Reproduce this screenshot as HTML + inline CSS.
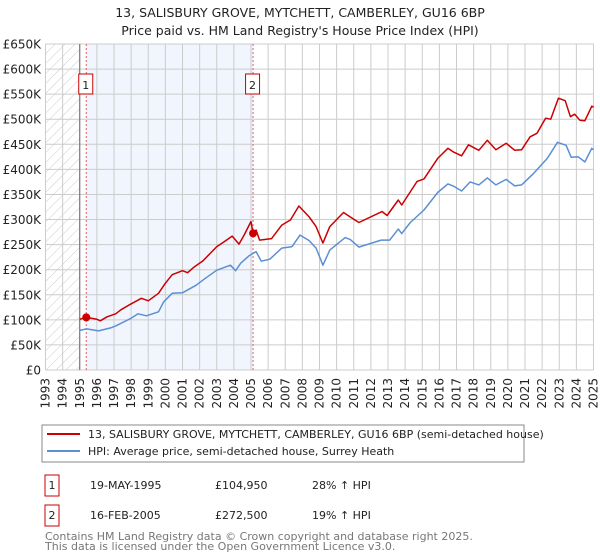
<!DOCTYPE html>
<html><head><meta charset="utf-8"><style>
body{margin:0;background:#fff}
svg{display:block;font-family:"DejaVu Sans","Liberation Sans",sans-serif}
</style></head><body>
<svg id="chart" width="600" height="560" viewBox="0 0 600 560">
<defs><pattern id="hatch" width="7" height="7" patternUnits="userSpaceOnUse" patternTransform="rotate(45)"><line x1="0" y1="0" x2="0" y2="7" stroke="#ccc" stroke-width="1"/></pattern></defs>
<text x="300" y="17" text-anchor="middle" font-size="12.5" fill="#222">13, SALISBURY GROVE, MYTCHETT, CAMBERLEY, GU16 6BP</text>
<text x="300" y="35" text-anchor="middle" font-size="12.5" fill="#222">Price paid vs. HM Land Registry's House Price Index (HPI)</text>
<g id="plot"></g>
<g>
<rect x="42" y="425" width="482" height="37" fill="#fff" stroke="#888"/>
<line x1="47" y1="434" x2="80" y2="434" stroke="#cc0000" stroke-width="2"/>
<text x="88" y="438" font-size="11" fill="#222">13, SALISBURY GROVE, MYTCHETT, CAMBERLEY, GU16 6BP (semi-detached house)</text>
<line x1="47" y1="451" x2="80" y2="451" stroke="#5b8fd4" stroke-width="2"/>
<text x="88" y="455" font-size="11" fill="#222">HPI: Average price, semi-detached house, Surrey Heath</text>
</g>
<g font-size="11" fill="#222">
<rect x="45" y="475" width="14" height="21" fill="#fff" stroke="#cc0000"/>
<text x="52" y="489" text-anchor="middle">1</text>
<text x="90" y="489">19-MAY-1995</text>
<text x="215" y="489">£104,950</text>
<text x="312" y="489">28% ↑ HPI</text>
<rect x="45" y="505" width="14" height="21" fill="#fff" stroke="#cc0000"/>
<text x="52" y="519" text-anchor="middle">2</text>
<text x="90" y="519">16-FEB-2005</text>
<text x="215" y="519">£272,500</text>
<text x="312" y="519">19% ↑ HPI</text>
</g>
<text x="45" y="540" font-size="11" fill="#777">Contains HM Land Registry data © Crown copyright and database right 2025.</text>
<text x="45" y="550" font-size="11" fill="#777">This data is licensed under the Open Government Licence v3.0.</text>
</svg>
<script>
const yTicks=[0,50,100,150,200,250,300,350,400,450,500,550,600,650];
const yLabels=["£0","£50K","£100K","£150K","£200K","£250K","£300K","£350K","£400K","£450K","£500K","£550K","£600K","£650K"];
const xYears=[1993,1994,1995,1996,1997,1998,1999,2000,2001,2002,2003,2004,2005,2006,2007,2008,2009,2010,2011,2012,2013,2014,2015,2016,2017,2018,2019,2020,2021,2022,2023,2024,2025];
const saleDates=[1995.38,2005.12];
const salePrices=[104.95,272.5];
const priceT=[1995.0,1995.35,1996.0,1996.2,1996.6,1997.1,1997.4,1997.9,1998.6,1999.0,1999.6,2000.0,2000.4,2001.0,2001.3,2001.7,2002.2,2003.0,2003.4,2003.9,2004.3,2004.6,2005.0,2005.12,2005.3,2005.5,2006.2,2006.8,2007.3,2007.8,2008.4,2008.8,2009.2,2009.6,2010.4,2010.8,2011.3,2012.65,2012.95,2013.6,2013.8,2014.7,2015.1,2015.9,2016.5,2016.8,2017.3,2017.7,2018.3,2018.8,2019.3,2019.9,2020.4,2020.8,2021.3,2021.7,2022.2,2022.5,2022.95,2023.35,2023.65,2023.9,2024.2,2024.5,2024.9,2025.0];
const priceV=[101,105,101,98,106,112,120,130,143,138,153,173,190,198,194,206,218,246,255,267,251,269,296,272,279,259,262,289,299,327,305,286,253,286,314,305,294,316,308,339,329,376,381,422,442,435,427,449,438,458,439,452,438,439,465,472,502,500,542,537,505,510,498,497,526,524];
const hpiT=[1995.0,1995.4,1996.1,1996.8,1997.1,1998.0,1998.4,1998.9,1999.6,1999.9,2000.4,2001.0,2001.8,2002.3,2003.0,2003.8,2004.1,2004.4,2004.9,2005.3,2005.6,2006.1,2006.8,2007.4,2007.86,2008.4,2008.8,2009.2,2009.6,2010.5,2010.8,2011.3,2012.6,2013.1,2013.6,2013.8,2014.3,2015.1,2015.9,2016.5,2016.8,2017.3,2017.8,2018.3,2018.8,2019.3,2019.9,2020.4,2020.8,2021.5,2022.3,2022.9,2023.4,2023.7,2024.1,2024.5,2024.9,2025.0];
const hpiV=[79,82,78,84,88,103,112,108,116,136,153,154,169,182,199,209,198,213,228,236,217,221,243,246,269,258,243,209,239,264,260,245,259,259,281,272,294,319,354,371,367,357,375,369,383,369,380,367,369,392,422,454,448,424,425,415,442,439];

const NS="http://www.w3.org/2000/svg";
const X0=45.5,X1=593.5,Y0=370,Y1=44;
function sx(t){return X0+(t-1993)/(2025-1993)*(X1-X0);}
function sy(v){return Y0-v/650*(Y0-Y1);}
const g=document.getElementById('plot');
function mk(tag,attrs){const e=document.createElementNS(NS,tag);for(const k in attrs)e.setAttribute(k,attrs[k]);g.appendChild(e);return e;}
let e;
e=mk('rect',{x:sx(1993),y:Y1,width:sx(1995)-sx(1993),height:Y0-Y1,fill:'url(#hatch)'});


e=mk('rect',{x:sx(saleDates[0]),y:Y1,width:sx(saleDates[1])-sx(saleDates[0]),height:Y0-Y1,fill:'#eef3fc',opacity:0.8});


xYears.forEach((yr)=>{
 e=mk('line',{x1:sx(yr),x2:sx(yr),y1:Y1,y2:Y0,stroke:'#ccc','stroke-width':1});
 
 
 e=mk('text',{x:0,y:0,transform:`translate(${sx(yr)+4},378) rotate(-90)`,'text-anchor':'end','font-size':12,fill:'#222'});
 e.textContent=String(yr);
 
 
});
yTicks.forEach((v,i)=>{
 e=mk('line',{x1:X0,x2:X1,y1:sy(v),y2:sy(v),stroke:'#ccc','stroke-width':1});
 
 
 e=mk('text',{x:41,y:sy(v)+4.5,'text-anchor':'end','font-size':12,fill:'#222'});
 e.textContent=yLabels[i];
 
 
});
e=mk('line',{x1:sx(1995),x2:sx(1995),y1:Y1,y2:Y0,stroke:'#666','stroke-width':1});


saleDates.forEach((d,i)=>{
 e=mk('line',{x1:sx(d),x2:sx(d),y1:Y1,y2:Y0,stroke:'#e06060','stroke-width':1,'stroke-dasharray':'2,2'});
 
 
 e=mk('rect',{x:sx(d)-7.5,y:74,width:14,height:20,fill:'#fff',stroke:'#cc0000'});
 
 
 e=mk('text',{x:sx(d)-0.5,y:89,'text-anchor':'middle','font-size':11,fill:'#222'});
 e.textContent=String(i+1);
 
 
});
function path(T,V){return T.map((t,i)=>(i?'L':'M')+sx(t).toFixed(1)+','+sy(V[i]).toFixed(1)).join('');}
e=mk('path',{d:path(hpiT,hpiV),fill:'none',stroke:'#5b8fd4','stroke-width':1.5,'stroke-linejoin':'round'});


e=mk('path',{d:path(priceT,priceV),fill:'none',stroke:'#cc0000','stroke-width':1.5,'stroke-linejoin':'round'});


saleDates.forEach((d,i)=>{
 e=mk('circle',{cx:sx(d),cy:sy(salePrices[i]),r:4,fill:'#cc0000'});
 
 
});
</script>
</body></html>
